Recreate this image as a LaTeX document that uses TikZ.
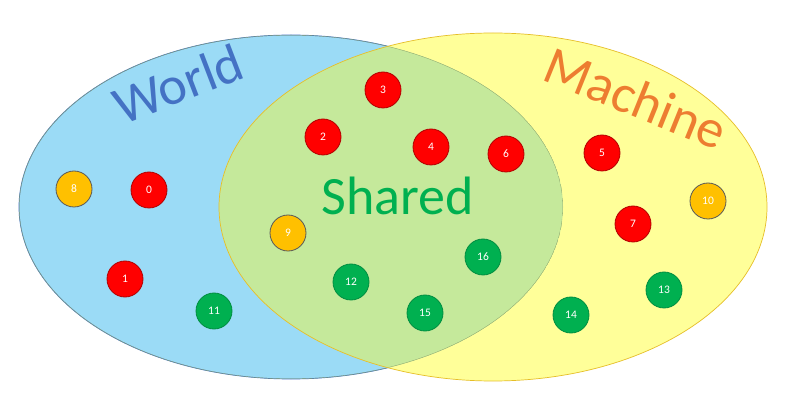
\documentclass[tikz,border=0pt]{standalone}
\usepackage{fontspec}
\setmainfont{Carlito}
\begin{document}
\begin{tikzpicture}[x=1pt,y=-1pt,
  dot/.style={circle,minimum size=36pt,inner sep=0pt,text=white,font=\fontsize{11.5}{13}\selectfont,line width=0.8pt},
  reddot/.style={dot,fill=red,draw=red!70!black},
  orgdot/.style={dot,fill=orgc,draw=black!65},
  grndot/.style={dot,fill=grnc,draw=grnc!80!black},
  biglabel/.style={font=\fontsize{54}{60}\selectfont}]
\definecolor{bluefill}{RGB}{155,219,246}
\definecolor{blueline}{RGB}{68,114,196}
\definecolor{yelfill}{RGB}{255,255,153}
\definecolor{yelline}{RGB}{230,190,40}
\definecolor{shfill}{RGB}{197,233,155}
\definecolor{shline}{RGB}{140,165,110}
\definecolor{orgc}{RGB}{255,192,0}
\definecolor{grnc}{RGB}{0,176,80}
\definecolor{worldc}{RGB}{68,114,196}
\definecolor{machc}{RGB}{237,125,49}
\useasboundingbox[fill=white] (0,0) rectangle (796,406);
% sets
\fill[bluefill] (291,207) ellipse [x radius=272pt, y radius=172pt];
\draw[blueline,line width=0.7pt] (291,207) ellipse [x radius=272pt, y radius=172pt];
\fill[yelfill] (493,207) ellipse [x radius=274pt, y radius=174pt];
\begin{scope}
  \clip (291,207) ellipse [x radius=272pt, y radius=172pt];
  \fill[shfill] (493,207) ellipse [x radius=274pt, y radius=174pt];
  \draw[shline,line width=0.7pt] (291,207) ellipse [x radius=272pt, y radius=172pt];
\end{scope}
\draw[yelline,line width=0.7pt] (493,207) ellipse [x radius=274pt, y radius=174pt];
% labels
\node[biglabel,text=worldc,rotate=21] (world) at (178,84) {World};
\node[biglabel,text=machc,rotate=-22] (machine) at (636,98) {Machine};
\node[biglabel,text=grnc] (shared) at (398,196) {Shared};
% elements
\node[reddot] (n0) at (149,190) {0};
\node[reddot] (n1) at (125,279) {1};
\node[reddot] (n2) at (323,137) {2};
\node[reddot] (n3) at (383,90) {3};
\node[reddot] (n4) at (431,147) {4};
\node[reddot] (n5) at (602,153) {5};
\node[reddot] (n6) at (506,154) {6};
\node[reddot] (n7) at (633,224) {7};
\node[orgdot] (n8) at (74,189) {8};
\node[orgdot] (n9) at (288,233) {9};
\node[orgdot] (n10) at (708,201) {10};
\node[grndot] (n11) at (214,311) {11};
\node[grndot] (n12) at (351,282) {12};
\node[grndot] (n13) at (664,290) {13};
\node[grndot] (n14) at (571,315) {14};
\node[grndot] (n15) at (425,313) {15};
\node[grndot] (n16) at (483,257) {16};
\end{tikzpicture}
\end{document}
